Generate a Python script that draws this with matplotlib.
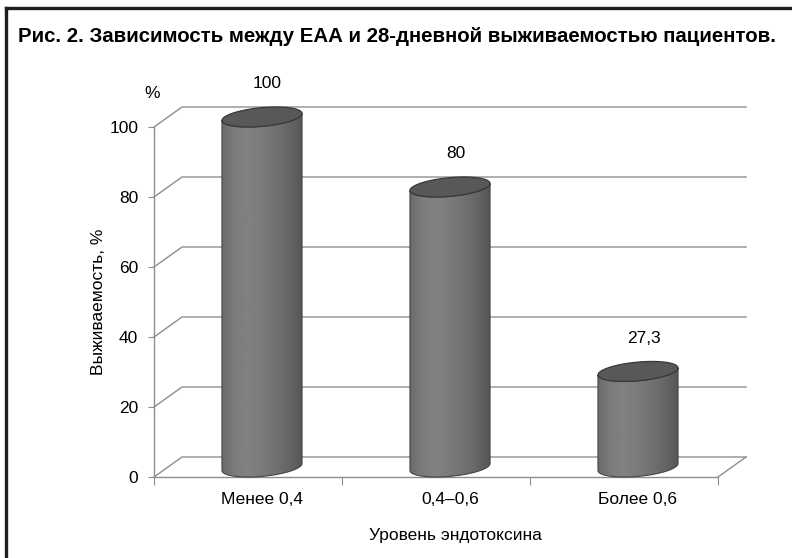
import matplotlib
matplotlib.use("Agg")
import matplotlib.pyplot as plt
from matplotlib.patches import Polygon
from matplotlib.lines import Line2D
import numpy as np

categories = ["Менее 0,4", "0,4–0,6", "Более 0,6"]
survival = [100, 80, 27.3]
value_labels = ["100", "80", "27,3"]
yticks = [0, 20, 40, 60, 80, 100]

title = "Рис. 2. Зависимость между ЕАА и 28-дневной выживаемостью пациентов."
ylabel = "Выживаемость, %"
xlabel = "Уровень эндотоксина"

W, H = 792, 558
plt.rcParams['font.family'] = ['Liberation Sans', 'DejaVu Sans']

fig = plt.figure(figsize=(W / 100, H / 100), dpi=100)
ax = fig.add_axes([154 / W, 81 / H, 564 / W, 350 / H])
n = len(categories)

# oblique depth of the 3d box, in data units
ddx, ddy = 28 / 188, 20 / 3.5
grid_c = '#8e8e8e'

# back wall grid + the short diagonals to the front axis
for v in yticks:
    ax.plot([0, ddx, n + ddx], [v, v + ddy, v + ddy], color=grid_c, lw=1,
            clip_on=False, zorder=1)
# right edge of the floor
ax.plot([n, n + ddx], [0, ddy], color=grid_c, lw=1, clip_on=False, zorder=1)

# cylinders
r = 37.5 / 188
a, b = ddx / 2, ddy / 2
R = np.hypot(r, a)
t0 = np.arctan2(a, r)
t = np.linspace(t0 - np.pi, t0, 80)
tt = np.linspace(0, 2 * np.pi, 120)
shade = np.array([0.42, 0.46, 0.49, 0.50, 0.50, 0.49, 0.47, 0.45, 0.43, 0.40, 0.37, 0.33])
grad = np.interp(np.linspace(0, 1, 200), np.linspace(0, 1, len(shade)), shade)

for i, v in enumerate(survival):
    cx = i + 0.5 + ddx / 2
    y0, y1 = ddy / 2, v + ddy / 2
    xs = cx + r * np.cos(t) + a * np.sin(t)
    bot = np.column_stack([xs, y0 + b * np.sin(t)])
    top = np.column_stack([xs[::-1], y1 + b * np.sin(t[::-1])])
    body = Polygon(np.vstack([bot, top]), closed=True, fc='none',
                   ec='#444444', lw=0.8, zorder=4, clip_on=False)
    ax.add_patch(body)
    im = ax.imshow(grad[None, :], extent=[cx - R, cx + R, 0, y1 + b],
                   cmap='gray', vmin=0, vmax=1, aspect='auto', zorder=3,
                   interpolation='bilinear')
    im.set_clip_box(fig.bbox)
    im.set_clip_path(body)
    cap = np.column_stack([cx + r * np.cos(tt) + a * np.sin(tt), y1 + b * np.sin(tt)])
    ax.add_patch(Polygon(cap, closed=True, fc='#585858', ec='#383838', lw=0.9,
                         zorder=5, clip_on=False))
    ax.annotate(value_labels[i], (cx, v), xytext=(4, 31), textcoords='offset points',
                ha='center', va='center', fontsize=12.5)

ax.set_xlim(0, n)
ax.set_ylim(0, 100)

for s in ['top', 'right']:
    ax.spines[s].set_visible(False)
for s in ['left', 'bottom']:
    ax.spines[s].set_color(grid_c)
    ax.spines[s].set_linewidth(1)
    ax.spines[s].set_zorder(2)

ax.set_yticks(yticks)
ax.set_yticklabels([str(v) for v in yticks])
ax.tick_params(axis='y', length=4.3, color=grid_c, pad=7, labelsize=12.5)
ax.set_xticks(range(n + 1))
ax.set_xticklabels([])
ax.set_xticks([i + 0.5 + ddx / 2 for i in range(n)], minor=True)
ax.set_xticklabels(categories, minor=True)
ax.tick_params(axis='x', which='major', length=5.5, color=grid_c)
ax.tick_params(axis='x', which='minor', length=0, pad=11, labelsize=12.5)

ax.set_ylabel(ylabel, fontsize=12.5)
ax.yaxis.set_label_coords(-48 / 564, 0.5)
ax.set_xlabel(xlabel, fontsize=12.5)
ax.xaxis.set_label_coords((455 - 154) / 564, -(528 - 477) / 350)

fig.text(152 / W, 1 - 93 / H, "%", ha='center', va='center', fontsize=12.5)
fig.text(18 / W, 1 - 36 / H, title, ha='left', va='center', fontsize=14.7,
         weight='bold', family=['Liberation Sans Narrow', 'Liberation Sans', 'DejaVu Sans'])

# page frame: top and left rules
fig.add_artist(Line2D([6 / W, 1], [1 - 8 / H, 1 - 8 / H], color='#1e1e1e', lw=2.4))
fig.add_artist(Line2D([6 / W, 6 / W], [0, 1 - 8 / H], color='#1e1e1e', lw=2.4))

fig.savefig("out.png", dpi=100)
